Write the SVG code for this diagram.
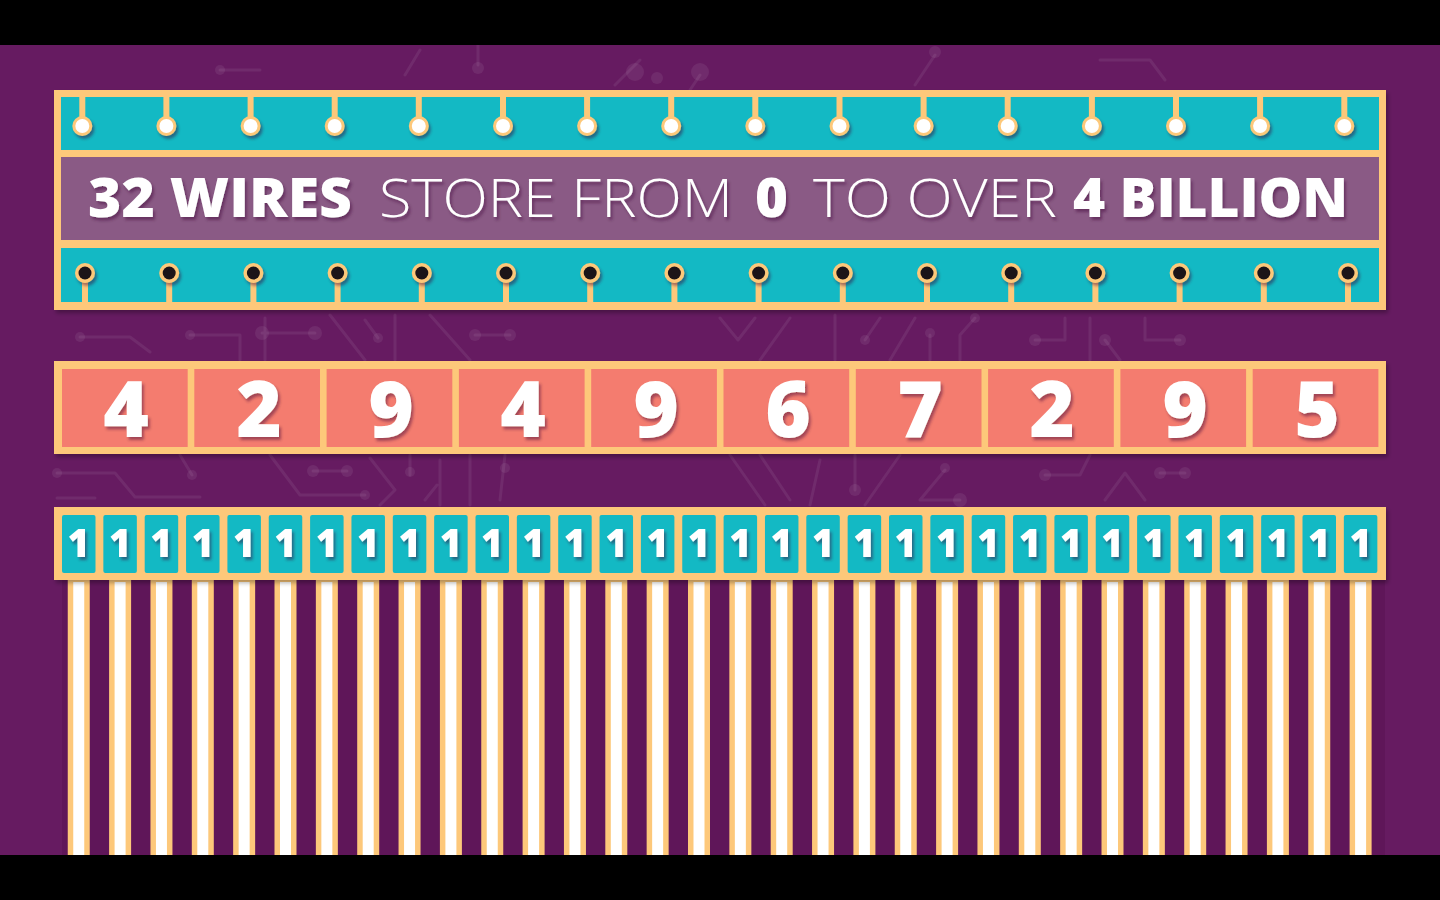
<svg xmlns="http://www.w3.org/2000/svg" xmlns:xlink="http://www.w3.org/1999/xlink" width="1440" height="900" viewBox="0 0 1440 900">
<defs>
<style>
.bg{fill:#661b61}
.gold{fill:#fdc87a}
.teal{fill:#13b9c4}
.mauve{fill:#8a5a85}
.coral{fill:#f47c6f}
.stem{stroke:#fdc87a;stroke-width:6}
.trace{fill:none;stroke:#ffffff;stroke-opacity:0.07;stroke-width:3;stroke-linecap:round;stroke-linejoin:round}
.dot{fill:#ffffff;fill-opacity:0.07}
.title{font-family:"Open Sans","Liberation Sans",sans-serif;font-size:54px;fill:#ffffff}
.b{font-weight:800}
.l{font-weight:300}
.dig{font-family:"Open Sans","Liberation Sans",sans-serif;font-weight:800;font-size:78px;fill:#ffffff;text-anchor:middle}
.one{font-family:"Open Sans","Liberation Sans",sans-serif;font-weight:800;font-size:38px;fill:#ffffff;text-anchor:middle}
.wo{fill:#fdc87a}
.wi{fill:#ffffff}
</style>
<filter id="sh" x="-5%" y="-20%" width="110%" height="140%">
<feDropShadow dx="2" dy="3" stdDeviation="2" flood-color="#000000" flood-opacity="0.3"/>
</filter>
<filter id="tsh" x="-5%" y="-20%" width="110%" height="150%">
<feDropShadow dx="2" dy="3" stdDeviation="1.5" flood-color="#3a0a36" flood-opacity="0.45"/>
</filter>
</defs>
<rect class="bg" x="0" y="0" width="1440" height="900"/>
<g id="background-traces">
<path class="trace" d="M80 337 H130 L150 352 M190 335 H240 V360 M265 318 V360 M262 333 H315 M330 315 L365 360 M365 320 L378 338 M395 315 V360 M430 315 L470 360 M475 335 H510"/>
<circle class="dot" cx="80" cy="337" r="5"/><circle class="dot" cx="190" cy="335" r="5"/><circle class="dot" cx="262" cy="333" r="7"/><circle class="dot" cx="315" cy="333" r="7"/><circle class="dot" cx="378" cy="338" r="5"/><circle class="dot" cx="475" cy="335" r="6"/><circle class="dot" cx="510" cy="335" r="6"/>
<path class="trace" d="M720 318 L738 340 L755 318 M760 360 L790 318 M835 315 V360 M865 340 L880 318 M890 360 L915 318 M930 360 V335 M960 360 V335 L975 318 M1035 340 H1065 V318 M1090 318 V360 M1105 340 L1120 360 M1145 318 V340 H1180"/>
<circle class="dot" cx="865" cy="340" r="5"/><circle class="dot" cx="930" cy="333" r="5"/><circle class="dot" cx="975" cy="318" r="5"/><circle class="dot" cx="1035" cy="340" r="6"/><circle class="dot" cx="1105" cy="340" r="6"/><circle class="dot" cx="1180" cy="340" r="6"/>
<path class="trace" d="M57 473 H115 L135 497 H200 M57 498 H95 M180 455 L192 475 M270 455 L300 495 H365 M313 471 H347 M370 458 L395 490 L380 505 M410 475 V455 M440 460 V505 M425 500 L437 485 M470 455 V505 M505 455 L500 500"/>
<circle class="dot" cx="57" cy="473" r="5"/><circle class="dot" cx="192" cy="475" r="5"/><circle class="dot" cx="365" cy="495" r="5"/><circle class="dot" cx="313" cy="471" r="6"/><circle class="dot" cx="347" cy="471" r="6"/><circle class="dot" cx="410" cy="472" r="5"/><circle class="dot" cx="505" cy="468" r="5"/>
<path class="trace" d="M730 455 L765 505 M760 455 L790 500 M820 460 L810 505 M855 455 V490 M900 455 L865 505 M945 470 L920 500 H960 M1045 475 H1080 L1090 455 M1160 473 H1185 M1105 500 L1125 473 L1145 500"/>
<circle class="dot" cx="855" cy="490" r="6"/><circle class="dot" cx="945" cy="468" r="5"/><circle class="dot" cx="960" cy="500" r="7"/><circle class="dot" cx="1045" cy="475" r="6"/><circle class="dot" cx="1160" cy="473" r="6"/><circle class="dot" cx="1185" cy="473" r="6"/>
<path class="trace" d="M420 50 L405 75 M478 45 V65 M640 60 L615 85 M700 75 L690 90 M935 55 L915 85 M220 70 H260 M1100 60 H1150 L1165 80"/>
<circle class="dot" cx="478" cy="68" r="6"/><circle class="dot" cx="635" cy="72" r="9"/><circle class="dot" cx="700" cy="72" r="9"/><circle class="dot" cx="657" cy="78" r="6"/><circle class="dot" cx="935" cy="52" r="6"/><circle class="dot" cx="220" cy="70" r="5"/>
</g>
<g id="chip">
<rect class="gold" x="54" y="90" width="1332" height="220" filter="url(#sh)"/>
<rect class="teal" x="61" y="97" width="1318" height="53"/>
<rect class="mauve" x="61" y="157" width="1318" height="83"/>
<rect class="teal" x="61" y="248" width="1318" height="54"/>
<g id="top-pins">
<path class="stem" d="M82.3 97V126M166.4 97V126M250.6 97V126M334.7 97V126M418.8 97V126M503 97V126M587.1 97V126M671.2 97V126M755.3 97V126M839.5 97V126M923.6 97V126M1007.7 97V126M1091.9 97V126M1176 97V126M1260.1 97V126M1344.3 97V126"/>
<g class="gold" filter="url(#tsh)">
<circle cx="82.3" cy="126" r="10"/><circle cx="166.4" cy="126" r="10"/><circle cx="250.6" cy="126" r="10"/><circle cx="334.7" cy="126" r="10"/><circle cx="418.8" cy="126" r="10"/><circle cx="503" cy="126" r="10"/><circle cx="587.1" cy="126" r="10"/><circle cx="671.2" cy="126" r="10"/><circle cx="755.3" cy="126" r="10"/><circle cx="839.5" cy="126" r="10"/><circle cx="923.6" cy="126" r="10"/><circle cx="1007.7" cy="126" r="10"/><circle cx="1091.9" cy="126" r="10"/><circle cx="1176" cy="126" r="10"/><circle cx="1260.1" cy="126" r="10"/><circle cx="1344.3" cy="126" r="10"/>
</g>
<g fill="#ffffff">
<circle cx="82.3" cy="126" r="7"/><circle cx="166.4" cy="126" r="7"/><circle cx="250.6" cy="126" r="7"/><circle cx="334.7" cy="126" r="7"/><circle cx="418.8" cy="126" r="7"/><circle cx="503" cy="126" r="7"/><circle cx="587.1" cy="126" r="7"/><circle cx="671.2" cy="126" r="7"/><circle cx="755.3" cy="126" r="7"/><circle cx="839.5" cy="126" r="7"/><circle cx="923.6" cy="126" r="7"/><circle cx="1007.7" cy="126" r="7"/><circle cx="1091.9" cy="126" r="7"/><circle cx="1176" cy="126" r="7"/><circle cx="1260.1" cy="126" r="7"/><circle cx="1344.3" cy="126" r="7"/>
</g>
</g>
<g id="bottom-pins">
<path class="stem" d="M85 273V302M169.2 273V302M253.4 273V302M337.6 273V302M421.8 273V302M506 273V302M590.2 273V302M674.4 273V302M758.6 273V302M842.8 273V302M927 273V302M1011.2 273V302M1095.4 273V302M1179.6 273V302M1263.8 273V302M1348 273V302"/>
<g class="gold" filter="url(#tsh)">
<circle cx="85" cy="273" r="10"/><circle cx="169.2" cy="273" r="10"/><circle cx="253.4" cy="273" r="10"/><circle cx="337.6" cy="273" r="10"/><circle cx="421.8" cy="273" r="10"/><circle cx="506" cy="273" r="10"/><circle cx="590.2" cy="273" r="10"/><circle cx="674.4" cy="273" r="10"/><circle cx="758.6" cy="273" r="10"/><circle cx="842.8" cy="273" r="10"/><circle cx="927" cy="273" r="10"/><circle cx="1011.2" cy="273" r="10"/><circle cx="1095.4" cy="273" r="10"/><circle cx="1179.6" cy="273" r="10"/><circle cx="1263.8" cy="273" r="10"/><circle cx="1348" cy="273" r="10"/>
</g>
<g fill="#1c1418">
<circle cx="85" cy="273" r="6.5"/><circle cx="169.2" cy="273" r="6.5"/><circle cx="253.4" cy="273" r="6.5"/><circle cx="337.6" cy="273" r="6.5"/><circle cx="421.8" cy="273" r="6.5"/><circle cx="506" cy="273" r="6.5"/><circle cx="590.2" cy="273" r="6.5"/><circle cx="674.4" cy="273" r="6.5"/><circle cx="758.6" cy="273" r="6.5"/><circle cx="842.8" cy="273" r="6.5"/><circle cx="927" cy="273" r="6.5"/><circle cx="1011.2" cy="273" r="6.5"/><circle cx="1095.4" cy="273" r="6.5"/><circle cx="1179.6" cy="273" r="6.5"/><circle cx="1263.8" cy="273" r="6.5"/><circle cx="1348" cy="273" r="6.5"/>
</g>
</g>
<g id="title" filter="url(#tsh)">
<text class="title b" x="88" y="217" textLength="264" lengthAdjust="spacingAndGlyphs">32 WIRES</text>
<text class="title l" x="379" y="217" textLength="354" lengthAdjust="spacingAndGlyphs">STORE FROM</text>
<text class="title b" x="755" y="217" textLength="33" lengthAdjust="spacingAndGlyphs">0</text>
<text class="title l" x="813" y="217" textLength="244" lengthAdjust="spacingAndGlyphs">TO OVER</text>
<text class="title b" x="1073" y="217" textLength="275" lengthAdjust="spacingAndGlyphs">4 BILLION</text>
</g>
</g>
<g id="decimal">
<rect class="gold" x="54" y="361" width="1332" height="93" filter="url(#sh)"/>
<g class="coral">
<rect x="62" y="369" width="125.7" height="78"/><rect x="194.3" y="369" width="125.7" height="78"/><rect x="326.6" y="369" width="125.7" height="78"/><rect x="458.9" y="369" width="125.7" height="78"/><rect x="591.2" y="369" width="125.7" height="78"/><rect x="723.5" y="369" width="125.7" height="78"/><rect x="855.8" y="369" width="125.7" height="78"/><rect x="988.1" y="369" width="125.7" height="78"/><rect x="1120.4" y="369" width="125.7" height="78"/><rect x="1252.7" y="369" width="125.7" height="78"/>
</g>
<g filter="url(#tsh)">
<text class="dig" x="126" y="437">4</text><text class="dig" x="259" y="437">2</text><text class="dig" x="391" y="437">9</text><text class="dig" x="523" y="437">4</text><text class="dig" x="656" y="437">9</text><text class="dig" x="788" y="437">6</text><text class="dig" x="920" y="437">7</text><text class="dig" x="1052" y="437">2</text><text class="dig" x="1185" y="437">9</text><text class="dig" x="1317" y="437">5</text>
</g>
</g>
<g id="connectors">
<rect x="62" y="580" width="1323" height="275" fill="#5f1659"/>
<g class="wo">
<rect x="67.75" y="578" width="22" height="277"/><rect x="109.1" y="578" width="22" height="277"/><rect x="150.45" y="578" width="22" height="277"/><rect x="191.8" y="578" width="22" height="277"/><rect x="233.15" y="578" width="22" height="277"/><rect x="274.5" y="578" width="22" height="277"/><rect x="315.85" y="578" width="22" height="277"/><rect x="357.2" y="578" width="22" height="277"/><rect x="398.55" y="578" width="22" height="277"/><rect x="439.9" y="578" width="22" height="277"/><rect x="481.25" y="578" width="22" height="277"/><rect x="522.6" y="578" width="22" height="277"/><rect x="563.95" y="578" width="22" height="277"/><rect x="605.3" y="578" width="22" height="277"/><rect x="646.65" y="578" width="22" height="277"/><rect x="688" y="578" width="22" height="277"/><rect x="729.35" y="578" width="22" height="277"/><rect x="770.7" y="578" width="22" height="277"/><rect x="812.05" y="578" width="22" height="277"/><rect x="853.4" y="578" width="22" height="277"/><rect x="894.75" y="578" width="22" height="277"/><rect x="936.1" y="578" width="22" height="277"/><rect x="977.45" y="578" width="22" height="277"/><rect x="1018.8" y="578" width="22" height="277"/><rect x="1060.15" y="578" width="22" height="277"/><rect x="1101.5" y="578" width="22" height="277"/><rect x="1142.85" y="578" width="22" height="277"/><rect x="1184.2" y="578" width="22" height="277"/><rect x="1225.55" y="578" width="22" height="277"/><rect x="1266.9" y="578" width="22" height="277"/><rect x="1308.25" y="578" width="22" height="277"/><rect x="1349.6" y="578" width="22" height="277"/>
</g>
<g class="wi">
<rect x="73.25" y="582" width="11" height="273"/><rect x="114.6" y="582" width="11" height="273"/><rect x="155.95" y="582" width="11" height="273"/><rect x="197.3" y="582" width="11" height="273"/><rect x="238.65" y="582" width="11" height="273"/><rect x="280" y="582" width="11" height="273"/><rect x="321.35" y="582" width="11" height="273"/><rect x="362.7" y="582" width="11" height="273"/><rect x="404.05" y="582" width="11" height="273"/><rect x="445.4" y="582" width="11" height="273"/><rect x="486.75" y="582" width="11" height="273"/><rect x="528.1" y="582" width="11" height="273"/><rect x="569.45" y="582" width="11" height="273"/><rect x="610.8" y="582" width="11" height="273"/><rect x="652.15" y="582" width="11" height="273"/><rect x="693.5" y="582" width="11" height="273"/><rect x="734.85" y="582" width="11" height="273"/><rect x="776.2" y="582" width="11" height="273"/><rect x="817.55" y="582" width="11" height="273"/><rect x="858.9" y="582" width="11" height="273"/><rect x="900.25" y="582" width="11" height="273"/><rect x="941.6" y="582" width="11" height="273"/><rect x="982.95" y="582" width="11" height="273"/><rect x="1024.3" y="582" width="11" height="273"/><rect x="1065.65" y="582" width="11" height="273"/><rect x="1107" y="582" width="11" height="273"/><rect x="1148.35" y="582" width="11" height="273"/><rect x="1189.7" y="582" width="11" height="273"/><rect x="1231.05" y="582" width="11" height="273"/><rect x="1272.4" y="582" width="11" height="273"/><rect x="1313.75" y="582" width="11" height="273"/><rect x="1355.1" y="582" width="11" height="273"/>
</g>
</g>
<g id="bits">
<rect class="gold" x="54" y="507" width="1332" height="73" filter="url(#sh)"/>
<g class="teal">
<rect x="62" y="515" width="33.5" height="58" rx="2"/><rect x="103.35" y="515" width="33.5" height="58" rx="2"/><rect x="144.7" y="515" width="33.5" height="58" rx="2"/><rect x="186.05" y="515" width="33.5" height="58" rx="2"/><rect x="227.4" y="515" width="33.5" height="58" rx="2"/><rect x="268.75" y="515" width="33.5" height="58" rx="2"/><rect x="310.1" y="515" width="33.5" height="58" rx="2"/><rect x="351.45" y="515" width="33.5" height="58" rx="2"/><rect x="392.8" y="515" width="33.5" height="58" rx="2"/><rect x="434.15" y="515" width="33.5" height="58" rx="2"/><rect x="475.5" y="515" width="33.5" height="58" rx="2"/><rect x="516.85" y="515" width="33.5" height="58" rx="2"/><rect x="558.2" y="515" width="33.5" height="58" rx="2"/><rect x="599.55" y="515" width="33.5" height="58" rx="2"/><rect x="640.9" y="515" width="33.5" height="58" rx="2"/><rect x="682.25" y="515" width="33.5" height="58" rx="2"/><rect x="723.6" y="515" width="33.5" height="58" rx="2"/><rect x="764.95" y="515" width="33.5" height="58" rx="2"/><rect x="806.3" y="515" width="33.5" height="58" rx="2"/><rect x="847.65" y="515" width="33.5" height="58" rx="2"/><rect x="889" y="515" width="33.5" height="58" rx="2"/><rect x="930.35" y="515" width="33.5" height="58" rx="2"/><rect x="971.7" y="515" width="33.5" height="58" rx="2"/><rect x="1013.05" y="515" width="33.5" height="58" rx="2"/><rect x="1054.4" y="515" width="33.5" height="58" rx="2"/><rect x="1095.75" y="515" width="33.5" height="58" rx="2"/><rect x="1137.1" y="515" width="33.5" height="58" rx="2"/><rect x="1178.45" y="515" width="33.5" height="58" rx="2"/><rect x="1219.8" y="515" width="33.5" height="58" rx="2"/><rect x="1261.15" y="515" width="33.5" height="58" rx="2"/><rect x="1302.5" y="515" width="33.5" height="58" rx="2"/><rect x="1343.85" y="515" width="33.5" height="58" rx="2"/>
</g>
<g filter="url(#tsh)">
<text class="one" x="78.75" y="557">1</text><text class="one" x="120.1" y="557">1</text><text class="one" x="161.45" y="557">1</text><text class="one" x="202.8" y="557">1</text><text class="one" x="244.15" y="557">1</text><text class="one" x="285.5" y="557">1</text><text class="one" x="326.85" y="557">1</text><text class="one" x="368.2" y="557">1</text><text class="one" x="409.55" y="557">1</text><text class="one" x="450.9" y="557">1</text><text class="one" x="492.25" y="557">1</text><text class="one" x="533.6" y="557">1</text><text class="one" x="574.95" y="557">1</text><text class="one" x="616.3" y="557">1</text><text class="one" x="657.65" y="557">1</text><text class="one" x="699" y="557">1</text><text class="one" x="740.35" y="557">1</text><text class="one" x="781.7" y="557">1</text><text class="one" x="823.05" y="557">1</text><text class="one" x="864.4" y="557">1</text><text class="one" x="905.75" y="557">1</text><text class="one" x="947.1" y="557">1</text><text class="one" x="988.45" y="557">1</text><text class="one" x="1029.8" y="557">1</text><text class="one" x="1071.15" y="557">1</text><text class="one" x="1112.5" y="557">1</text><text class="one" x="1153.85" y="557">1</text><text class="one" x="1195.2" y="557">1</text><text class="one" x="1236.55" y="557">1</text><text class="one" x="1277.9" y="557">1</text><text class="one" x="1319.25" y="557">1</text><text class="one" x="1360.6" y="557">1</text>
</g>
</g>
<rect x="0" y="0" width="1440" height="45" fill="#000000"/>
<rect x="0" y="855" width="1440" height="45" fill="#000000"/>
</svg>
